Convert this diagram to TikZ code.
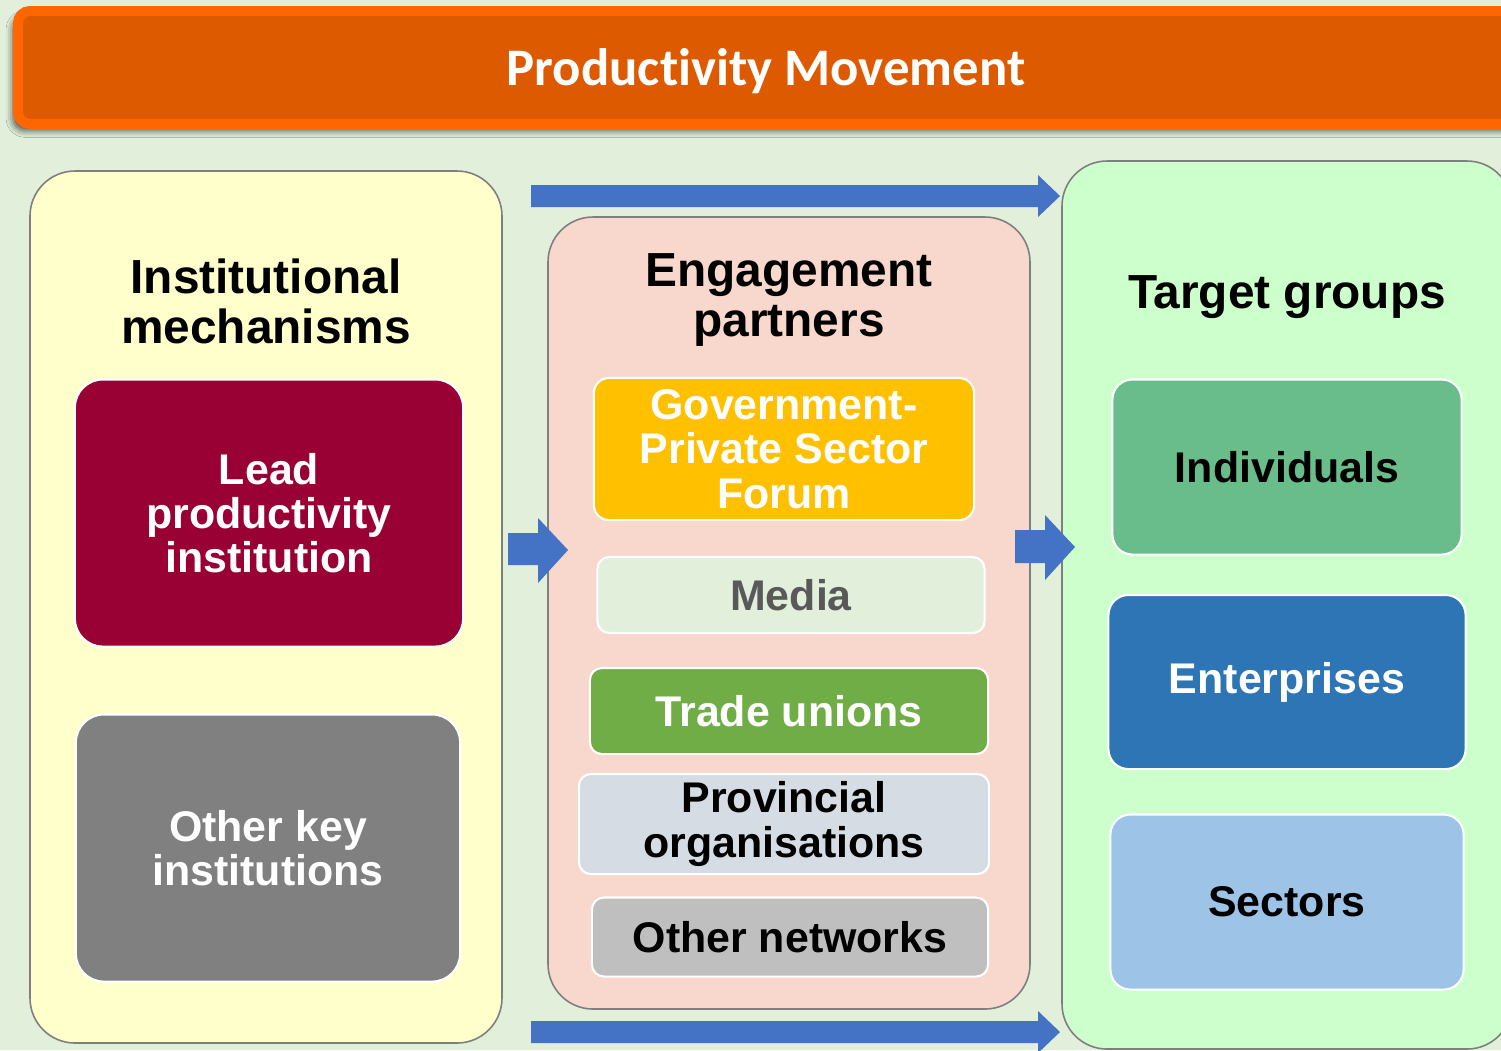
\documentclass[tikz,border=0pt]{standalone}
\usepackage{fontspec}
\setmainfont{Liberation Sans}
\newfontfamily\bannerfont[Ligatures=NoCommon]{Carlito}
\usepackage{xcolor}
\usetikzlibrary{shadows.blur}

\definecolor{bgGreen}{HTML}{E2EFDA}
\definecolor{bannerEdge}{HTML}{FF6600}
\definecolor{bannerFill}{HTML}{DE5A00}
\definecolor{panelGray}{HTML}{7F7F7F}
\definecolor{panelYellow}{HTML}{FFFFCC}
\definecolor{panelPink}{HTML}{F8D7CC}
\definecolor{panelMint}{HTML}{CCFFCC}
\definecolor{arrowBlue}{HTML}{4472C4}
\definecolor{leadRed}{HTML}{990033}
\definecolor{keyGray}{HTML}{808080}
\definecolor{forumGold}{HTML}{FFC000}
\definecolor{mediaText}{HTML}{595959}
\definecolor{unionGreen}{HTML}{70AD47}
\definecolor{provBlue}{HTML}{D6DCE4}
\definecolor{netGray}{HTML}{BFBFBF}
\definecolor{indivGreen}{HTML}{69BD8B}
\definecolor{enterBlue}{HTML}{2E75B6}
\definecolor{sectBlue}{HTML}{9DC3E6}

\newcommand\headfont{\fontsize{13.6}{14.2}\selectfont\bfseries}
\newcommand\boxfont{\fontsize{12.2}{12.6}\selectfont\bfseries}

\begin{document}
\begin{tikzpicture}[x=0.01cm,y=-0.01cm,
  panel/.style={draw=panelGray, line width=0.45pt, rounded corners=0.45cm},
  box/.style={draw=white, line width=0.6pt, rounded corners=0.2cm, align=center, inner sep=0pt, font=\boxfont},
  head/.style={align=center, inner sep=0pt, font=\headfont},
  blockarrow/.style={fill=arrowBlue}]

\useasboundingbox (0,0) rectangle (1501,1050);
\fill[bgGreen] (0,0) rectangle (1501,1050);

% banner
\begin{scope}
\clip (0,0) rectangle (1501,1050);
\draw[bannerEdge, fill=bannerFill, line width=2.85pt, rounded corners=0.12cm,
  blur shadow={shadow xshift=-1.4pt, shadow yshift=-1.8pt, shadow blur radius=2pt, shadow opacity=70}]
  (18,11) rectangle (1530,124);
\end{scope}
\node[text=white, inner sep=0pt, font=\bannerfont\fontsize{15}{18}\selectfont\bfseries] (banner) at (766,71) {Productivity Movement};

% three panels
\draw[panel, fill=panelYellow] (30,171) rectangle (502,1043);
\draw[panel, fill=panelPink] (548,217) rectangle (1030,1009);
\begin{scope}
\clip (0,0) rectangle (1501,1050);
\draw[panel, fill=panelMint] (1062,161) rectangle (1512,1049);
\end{scope}

% left column
\node[head] (mechanisms) at (266,301) {Institutional\\mechanisms};
\node[box, fill=leadRed, text=white, minimum width=3.88cm, minimum height=2.67cm, rounded corners=0.28cm] (lead) at (269,513) {Lead\\productivity\\institution};
\node[box, fill=keyGray, text=white, minimum width=3.84cm, minimum height=2.67cm, rounded corners=0.28cm] (otherkey) at (268,848) {Other key\\institutions};

% middle column
\node[head] (partners) at (789,300) {Engagement\\partners};
\node[box, fill=forumGold, text=white, minimum width=3.80cm, minimum height=1.42cm, rounded corners=0.15cm] (forum) at (784,449) {Government-\\Private Sector\\Forum};
\node[box, fill=bgGreen, text=mediaText, minimum width=3.87cm, minimum height=0.76cm, rounded corners=0.12cm] (media) at (791,595) {Media};
\node[box, fill=unionGreen, text=white, minimum width=3.98cm, minimum height=0.86cm, rounded corners=0.12cm] (unions) at (789,711) {Trade unions};
\node[box, fill=provBlue, minimum width=4.10cm, minimum height=1.00cm, rounded corners=0.12cm] (provincial) at (784,824) {Provincial\\organisations};
\node[box, fill=netGray, minimum width=3.96cm, minimum height=0.79cm, rounded corners=0.12cm] (networks) at (790,937) {Other networks};

% right column
\node[head] (target) at (1287,297) {Target groups};
\node[box, fill=indivGreen, minimum width=3.49cm, minimum height=1.75cm] (individuals) at (1287,467) {Individuals};
\node[box, fill=enterBlue, text=white, minimum width=3.57cm, minimum height=1.74cm] (enterprises) at (1287,682) {Enterprises};
\node[box, fill=sectBlue, minimum width=3.53cm, minimum height=1.75cm] (sectors) at (1287,902) {Sectors};

% block arrows
\fill[blockarrow] (531,185) -- (1038,185) -- (1038,175) -- (1060,196) -- (1038,217) -- (1038,207) -- (531,207) -- cycle;
\fill[blockarrow] (531,1021) -- (1038,1021) -- (1038,1011) -- (1060,1032) -- (1038,1053) -- (1038,1043) -- (531,1043) -- cycle;
\fill[blockarrow] (508,533) -- (538,533) -- (538,518) -- (568,550) -- (538,583) -- (538,565) -- (508,565) -- cycle;
\fill[blockarrow] (1015,530) -- (1045,530) -- (1045,515) -- (1075,547) -- (1045,580) -- (1045,563) -- (1015,563) -- cycle;

\end{tikzpicture}
\end{document}
